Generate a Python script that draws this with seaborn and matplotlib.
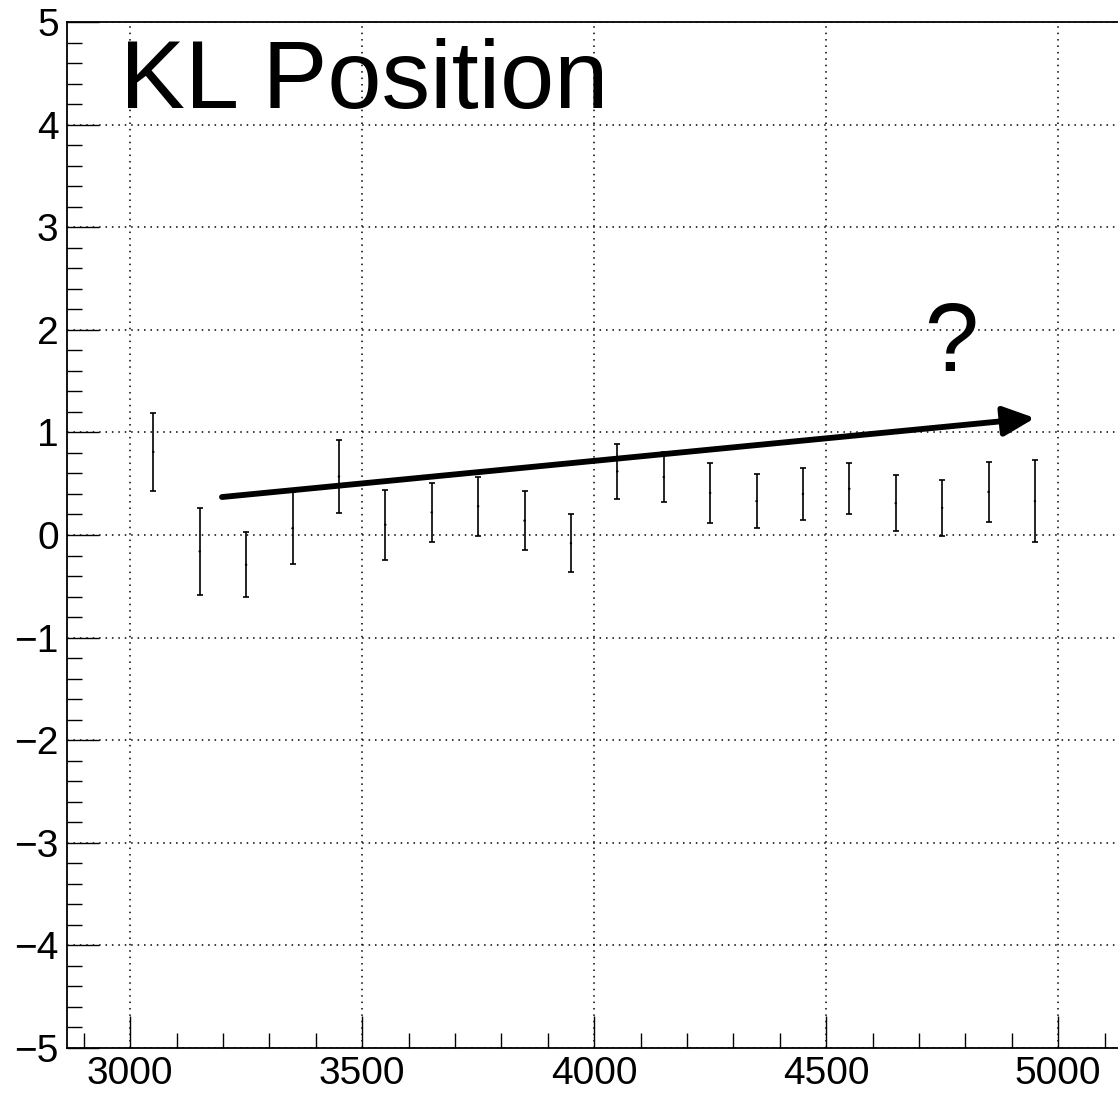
import matplotlib
matplotlib.use("Agg")
import matplotlib.pyplot as plt
from matplotlib.ticker import MultipleLocator
import numpy as np
import pandas as pd
import seaborn as sns

# Bin centres and measured KL position with symmetric uncertainties
bin_centers = [3050, 3150, 3250, 3350, 3450, 3550, 3650, 3750, 3850, 3950,
               4050, 4150, 4250, 4350, 4450, 4550, 4650, 4750, 4850, 4950]
kl_position = [0.81, -0.16, -0.29, 0.065, 0.57, 0.10, 0.22, 0.28, 0.14, -0.08,
               0.62, 0.565, 0.41, 0.33, 0.40, 0.45, 0.31, 0.265, 0.42, 0.33]
kl_error = [0.38, 0.42, 0.315, 0.35, 0.36, 0.34, 0.29, 0.29, 0.29, 0.28,
            0.265, 0.245, 0.29, 0.265, 0.255, 0.25, 0.27, 0.27, 0.295, 0.40]

# Trend arrow (start, end) in data coordinates
trend_x = [3198, 4950]
trend_y = [0.37, 1.14]

title_text = "KL Position"
question_text = "?"

df = pd.DataFrame({"x": bin_centers, "y": kl_position, "err": kl_error})

sns.set_theme(style="white")
plt.rcParams["font.family"] = ["Liberation Sans", "DejaVu Sans"]

W, H, DPI = 1118, 1100, 100
fig = plt.figure(figsize=(W / DPI, H / DPI), dpi=DPI)
left_px, right_px, top_px, bottom_px = 67, 1118, 22, 1048
ax = fig.add_axes([left_px / W, 1 - bottom_px / H,
                   (right_px - left_px) / W, (bottom_px - top_px) / H])

ax.set_xlim(2864, 5129)
ax.set_ylim(-5, 5)

# Error bars with small caps and tiny centre markers
ax.errorbar(df["x"], df["y"], yerr=df["err"], fmt="none", ecolor="black",
            elinewidth=1.2, capsize=2.3, capthick=1.2, zorder=3)
sns.scatterplot(data=df, x="x", y="y", ax=ax, color="black", s=3,
                edgecolor="none", zorder=4, legend=False)

# Dotted grid at major ticks
ax.xaxis.set_major_locator(MultipleLocator(500))
ax.xaxis.set_minor_locator(MultipleLocator(100))
ax.yaxis.set_major_locator(MultipleLocator(1))
ax.yaxis.set_minor_locator(MultipleLocator(0.2))
ax.grid(True, which="major", color="black", linestyle=(0, (1, 3.2)),
        linewidth=1.1)
ax.set_axisbelow(True)

ax.tick_params(axis="both", which="major", direction="in", length=23,
               width=1.0, color="black", labelsize=28, pad=6,
               labelcolor="black")
ax.tick_params(axis="both", which="minor", direction="in", length=11,
               width=1.0, color="black")
ax.tick_params(axis="x", which="both", top=False, bottom=True)
ax.tick_params(axis="y", which="both", left=True, right=False)

ax.set_xticklabels([])
ax.xaxis.set_major_formatter(matplotlib.ticker.FuncFormatter(
    lambda v, p: f"{int(v)}"))
ax.yaxis.set_major_formatter(matplotlib.ticker.FuncFormatter(
    lambda v, p: f"{int(v)}".replace("-", "\u2212")))

for side in ["left", "bottom", "top"]:
    ax.spines[side].set_color("black")
    ax.spines[side].set_linewidth(1.3)
ax.spines["right"].set_visible(False)

ax.set_xlabel("")
ax.set_ylabel("")

# Trend arrow
ax.annotate("", xy=(trend_x[1], trend_y[1]), xytext=(trend_x[0], trend_y[0]),
            arrowprops=dict(arrowstyle="-|>,head_length=1.6,head_width=0.75",
                            color="black", lw=4.2, shrinkA=0, shrinkB=0),
            zorder=5)

ax.text(4769, 1.60, question_text, ha="center", va="baseline",
        fontsize=70, color="black", zorder=6)
ax.text(0.0504, 0.916, title_text, transform=ax.transAxes, ha="left",
        va="baseline", fontsize=70, color="black", zorder=6)

fig.savefig("out.png", dpi=DPI, facecolor="white")
